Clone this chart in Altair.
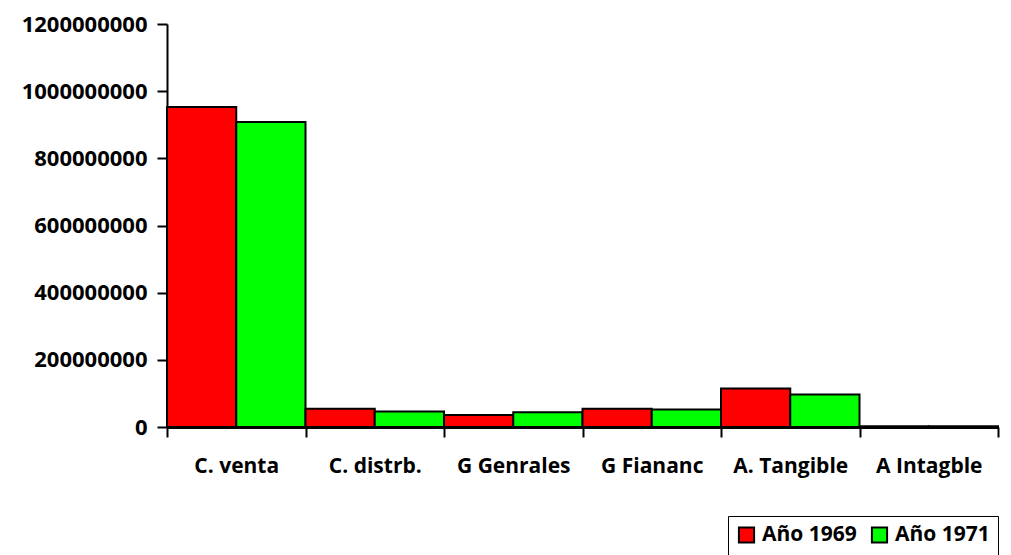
import altair as alt
import pandas as pd

categories = ["C. venta", "C. distrb.", "G Genrales", "G Fiananc", "A. Tangible", "A Intagble"]
series = ["Año 1969", "Año 1971"]
values_1969 = [953000000, 54000000, 36000000, 54000000, 115000000, 2000000]
values_1971 = [908000000, 46000000, 44000000, 52000000, 97000000, 2000000]

rows = []
for c, a, b in zip(categories, values_1969, values_1971):
    rows.append({"cat": c, "serie": series[0], "valor": a})
    rows.append({"cat": c, "serie": series[1], "valor": b})
df = pd.DataFrame(rows)

FONT = "Open Sans"
FS = 22

chart = alt.Chart(df).mark_bar(stroke="black", strokeWidth=2, strokeOpacity=1).encode(
    x=alt.X("cat:N", sort=categories, title=None,
            scale=alt.Scale(paddingInner=0, paddingOuter=0),
            axis=alt.Axis(labelAngle=0, tickBand="extent", tickSize=10, tickWidth=2,
                          tickColor="black", domainColor="black", domainWidth=3,
                          labelPadding=18, labelFont=FONT, labelFontSize=21,
                          labelFontWeight="bold", labelColor="black")),
    xOffset=alt.XOffset("serie:N", sort=series, scale=alt.Scale(paddingInner=0, paddingOuter=0)),
    y=alt.Y("valor:Q", title=None,
            scale=alt.Scale(domain=[0, 1200000000]),
            axis=alt.Axis(values=[0, 200000000, 400000000, 600000000, 800000000, 1000000000, 1200000000],
                          format="d", grid=False, tickSize=10, tickWidth=2, tickColor="black",
                          domainColor="black", domainWidth=2, labelPadding=10,
                          labelFont=FONT, labelFontSize=FS, labelFontWeight="bold",
                          labelColor="black")),
    color=alt.Color("serie:N", sort=series,
                    scale=alt.Scale(domain=series, range=["#ff0000", "#00ff00"]),
                    legend=alt.Legend(title=None, orient="none", legendX=561, legendY=492,
                                      direction="horizontal", symbolType="square",
                                      symbolSize=230, symbolStrokeColor="black",
                                      symbolStrokeWidth=2,
                                      labelFont=FONT, labelFontSize=21, labelFontWeight="bold",
                                      labelColor="black", strokeColor="black",
                                      padding=8, columnPadding=10, labelOffset=5)),
).properties(
    width=831, height=403,
    autosize=alt.AutoSizeParams(type="none"),
    padding={"left": 159, "top": 16, "right": 5, "bottom": 128},
).configure_view(stroke=None).configure_legend(symbolStrokeColor="black")

chart.save("out.html", embed_options={"renderer": "svg", "actions": False})
